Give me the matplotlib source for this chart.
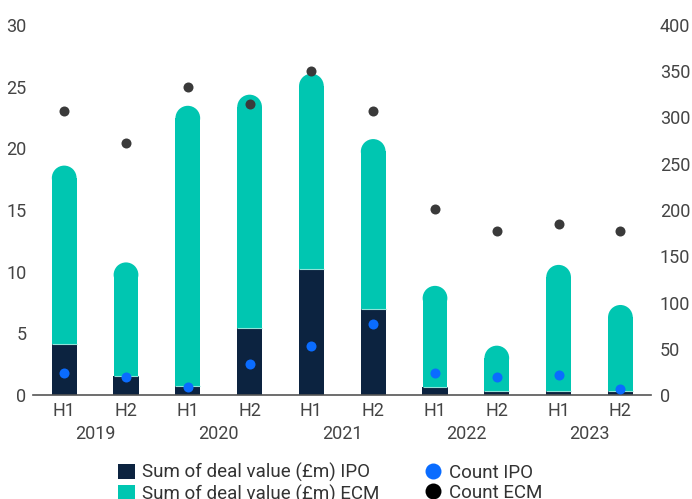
import matplotlib
matplotlib.use("Agg")
import matplotlib.pyplot as plt
from matplotlib.patches import Ellipse, Patch
from matplotlib.lines import Line2D
from matplotlib.transforms import blended_transform_factory

# half-year periods
halves = ["H1", "H2"] * 5
years = ["2019", "2020", "2021", "2022", "2023"]

# deal values (left axis)
ipo_value = [4.1, 1.55, 0.75, 5.45, 10.2, 6.95, 0.65, 0.35, 0.35, 0.35]
ecm_value = [18.6, 10.75, 23.45, 24.35, 26.05, 20.75, 8.85, 4.0, 10.55, 7.3]

# deal counts (right axis)
count_ipo = [24, 20, 9, 34, 53, 77, 24, 19, 22, 7]
count_ecm = [307, 272, 333, 315, 350, 307, 201, 177, 185, 177]

NAVY = "#0c2340"
TEAL = "#00c6b1"
BLUE = "#0a6cff"
DARK = "#3a3a3a"
TXT = "#444444"

plt.rcParams["font.family"] = ["Roboto", "DejaVu Sans"]
plt.rcParams["font.size"] = 13

fig = plt.figure(figsize=(6.92, 4.99), dpi=100)
ax = fig.add_axes([33.3 / 692, 104 / 499, 618 / 692, 370 / 499])
ax2 = ax.twinx()

n = len(halves)
xs = list(range(n))
width = 0.4
ax.set_xlim(-0.5, n - 0.5)
ax.set_ylim(0, 30)
ax2.set_ylim(0, 400)

# radius of the rounded cap in y data units (half circle on screen)
fig.canvas.draw()
bb = ax.get_window_extent()
px_x = bb.width / n
px_y = bb.height / 30
r_y = (width / 2) * px_x / px_y

# ECM bars: straight body plus a half-circle cap
body = [v - r_y for v in ecm_value]
ax.bar(xs, body, width=width, color=TEAL, zorder=2)
for x, b in zip(xs, body):
    ax.add_patch(Ellipse((x, b), width, 2 * r_y, facecolor=TEAL,
                         edgecolor="none", zorder=2))

# IPO bars
ax.bar(xs, ipo_value, width=width + 0.01, color=NAVY, zorder=3,
       edgecolor=NAVY, linewidth=0)
# thin light seam where the ECM part starts
ax.hlines(ipo_value, [x - width / 2 for x in xs], [x + width / 2 for x in xs],
          colors="#8fe3d8", linewidth=0.8, zorder=3)

# counts
ax2.scatter(xs, count_ipo, s=52, color=BLUE, zorder=4, linewidths=0)
ax2.scatter(xs, count_ecm, s=52, color=DARK, zorder=4, linewidths=0)

for a in (ax, ax2):
    for s in ("top", "left", "right"):
        a.spines[s].set_visible(False)
ax2.spines["bottom"].set_visible(False)
ax.spines["bottom"].set_color("#555555")
ax.spines["bottom"].set_linewidth(1.2)
ax.spines["bottom"].set_zorder(5)

ax.set_xticks(xs)
ax.set_xticklabels(halves)
ax.set_yticks(range(0, 31, 5))
ax2.set_yticks(range(0, 401, 50))
ax.tick_params(axis="x", length=0, pad=5, colors=TXT)
ax.tick_params(axis="y", length=0, pad=5, colors=TXT)
ax2.tick_params(axis="y", length=0, pad=6, colors=TXT)

# year labels under each H1/H2 pair
trans = blended_transform_factory(ax.transData, ax.transAxes)
for i, yr in enumerate(years):
    ax.text(2 * i + 0.5, -0.105, yr, transform=trans, ha="center",
            va="center", color=TXT)

handles = [
    Patch(facecolor=NAVY),
    Patch(facecolor=TEAL),
    Line2D([], [], marker="o", linestyle="none", markersize=11.5,
           markerfacecolor=BLUE, markeredgewidth=0),
    Line2D([], [], marker="o", linestyle="none", markersize=11.5,
           markerfacecolor="black", markeredgewidth=0),
]
labels = ["Sum of deal value (£m) IPO", "Sum of deal value (£m) ECM",
          "Count IPO", "Count ECM"]
fig.legend(handles, labels, ncol=2, loc="upper left",
           bbox_to_anchor=(118 / 692, 1 - 463 / 499), frameon=False,
           borderpad=0, borderaxespad=0, handlelength=0.9, handleheight=0.9,
           handletextpad=0.4, labelspacing=0.12, columnspacing=2.37,
           labelcolor="#333333", fontsize=13.5)

fig.savefig("out.png", dpi=100)
